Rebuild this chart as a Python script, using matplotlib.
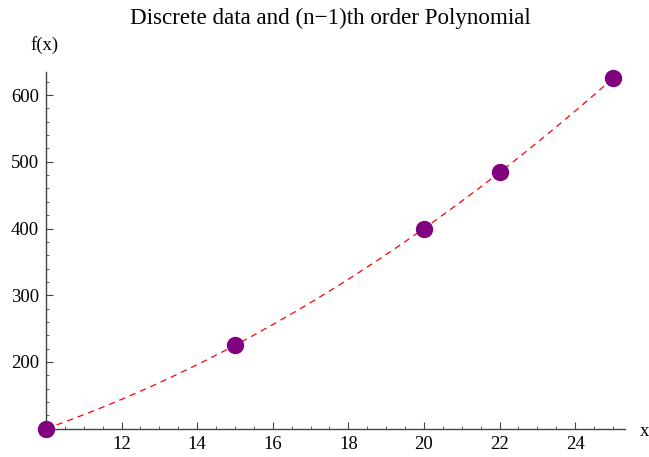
import numpy as np
import matplotlib
matplotlib.use('Agg')
from matplotlib import pyplot as plt
from matplotlib.ticker import MultipleLocator

x_data = [10, 15, 20, 22, 25]
y_data = [100, 225, 400, 484, 625]
title = 'Discrete data and (n\u22121)th order Polynomial'

plt.rcParams['font.family'] = ['Liberation Serif', 'DejaVu Serif']

fig = plt.figure(figsize=(6.49, 4.57), dpi=100)
W, H = 649, 457
ax = fig.add_axes([46 / W, (H - 428.7) / H, (625 - 46) / W, (428.7 - 71.7) / H])

# (n-1)th order interpolating polynomial through the points
coef = np.polyfit(x_data, y_data, len(x_data) - 1)
xs = np.linspace(min(x_data), max(x_data), 300)
ax.plot(xs, np.polyval(coef, xs), color='red', lw=0.9, dashes=(5, 4))
ax.plot(x_data, y_data, 'o', color='#800080', ms=11.5, clip_on=False, zorder=5)

ax.set_xlim(10, 25.32)
ax.set_ylim(100, 635)
ax.xaxis.set_minor_locator(MultipleLocator(0.5))
ax.yaxis.set_minor_locator(MultipleLocator(20))
ax.set_xticks([12, 14, 16, 18, 20, 22, 24])
ax.set_yticks([200, 300, 400, 500, 600])

for s in ['top', 'right']:
    ax.spines[s].set_visible(False)
for s in ['left', 'bottom']:
    ax.spines[s].set_color('#444444')
    ax.spines[s].set_linewidth(1.0)
ax.tick_params(which='major', direction='in', length=5, width=0.8, color='#444444',
               labelsize=13.5, pad=5)
ax.tick_params(which='minor', direction='in', length=2.5, width=0.6, color='#444444')

fig.text(330.5 / W, 1 - 18 / H, title, fontsize=16.6, ha='center', va='center')
fig.text(45 / W, 1 - 45 / H, 'f(x)', fontsize=13.5, ha='center', va='center')
fig.text(645 / W, 1 - 431 / H, 'x', fontsize=13.5, ha='center', va='center')

fig.savefig('out.png', dpi=100)
